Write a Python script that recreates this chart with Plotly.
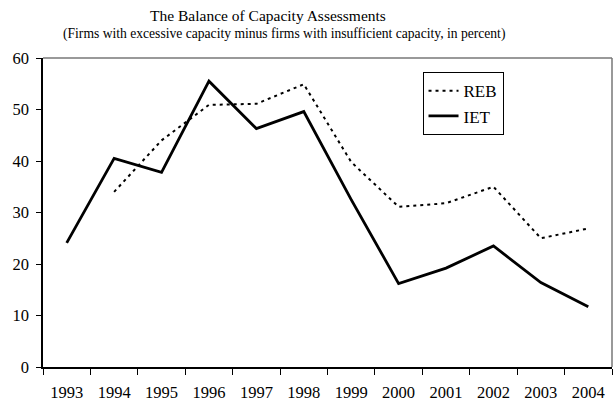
import plotly.graph_objects as go

years = ["1993", "1994", "1995", "1996", "1997", "1998", "1999", "2000", "2001", "2002", "2003", "2004"]
reb = [None, 34.0, 44.0, 50.9, 51.1, 54.9, 39.8, 31.1, 31.8, 35.0, 25.0, 26.9]
iet = [24.1, 40.5, 37.8, 55.5, 46.3, 49.6, 32.5, 16.2, 19.2, 23.5, 16.4, 11.7]

FONT = "Liberation Serif"

fig = go.Figure()
fig.add_trace(go.Scatter(x=years, y=reb, name="REB", mode="lines",
                         line=dict(color="black", width=2, dash="3px,4px")))
fig.add_trace(go.Scatter(x=years, y=iet, name="IET", mode="lines",
                         line=dict(color="black", width=2.8)))

fig.update_layout(
    width=613, height=405,
    margin=dict(l=43, r=1, t=58, b=38),
    paper_bgcolor="white", plot_bgcolor="white",
    font=dict(family=FONT, color="black", size=16),
    showlegend=True,
    legend=dict(x=0.667, y=0.954, xanchor="left", yanchor="top",
                bordercolor="black", borderwidth=1, bgcolor="white",
                font=dict(family=FONT, size=17), itemwidth=30,
                tracegroupgap=0),
    xaxis=dict(type="category", tickson="boundaries", ticks="outside", ticklen=6,
               tickcolor="black", showline=True, linecolor="black", linewidth=1.5,
               showgrid=False, tickfont=dict(size=16.5), range=[-0.5, 11.5],
               ticklabelstandoff=9),
    yaxis=dict(range=[0, 60], dtick=10, ticks="outside", ticklen=5, tickcolor="black",
               showline=True, linecolor="black", linewidth=1.5, showgrid=False,
               zeroline=False, tickfont=dict(size=16.5), ticklabelstandoff=4),
    shapes=[
        dict(type="line", xref="paper", yref="paper", x0=0, x1=1, y0=1, y1=1,
             line=dict(color="#777777", width=1.5)),
        dict(type="line", xref="paper", yref="paper", x0=1, x1=1, y0=0, y1=1,
             line=dict(color="#777777", width=1.5)),
    ],
    annotations=[
        dict(text="The Balance of Capacity Assessments", xref="paper", yref="paper",
             x=(268 - 43) / 569, y=(367 - 15.5) / 309, xanchor="center", yanchor="middle",
             showarrow=False, font=dict(family=FONT, size=15.5)),
        dict(text="(Firms with excessive capacity minus firms with insufficient capacity, in percent)",
             xref="paper", yref="paper",
             x=(284 - 43) / 569, y=(367 - 33.5) / 309, xanchor="center", yanchor="middle",
             showarrow=False, font=dict(family=FONT, size=13.6)),
    ],
)

fig.write_html("out.html", config={"displayModeBar": False},
               post_script="document.body.style.margin='0';document.body.style.overflow='hidden';")
